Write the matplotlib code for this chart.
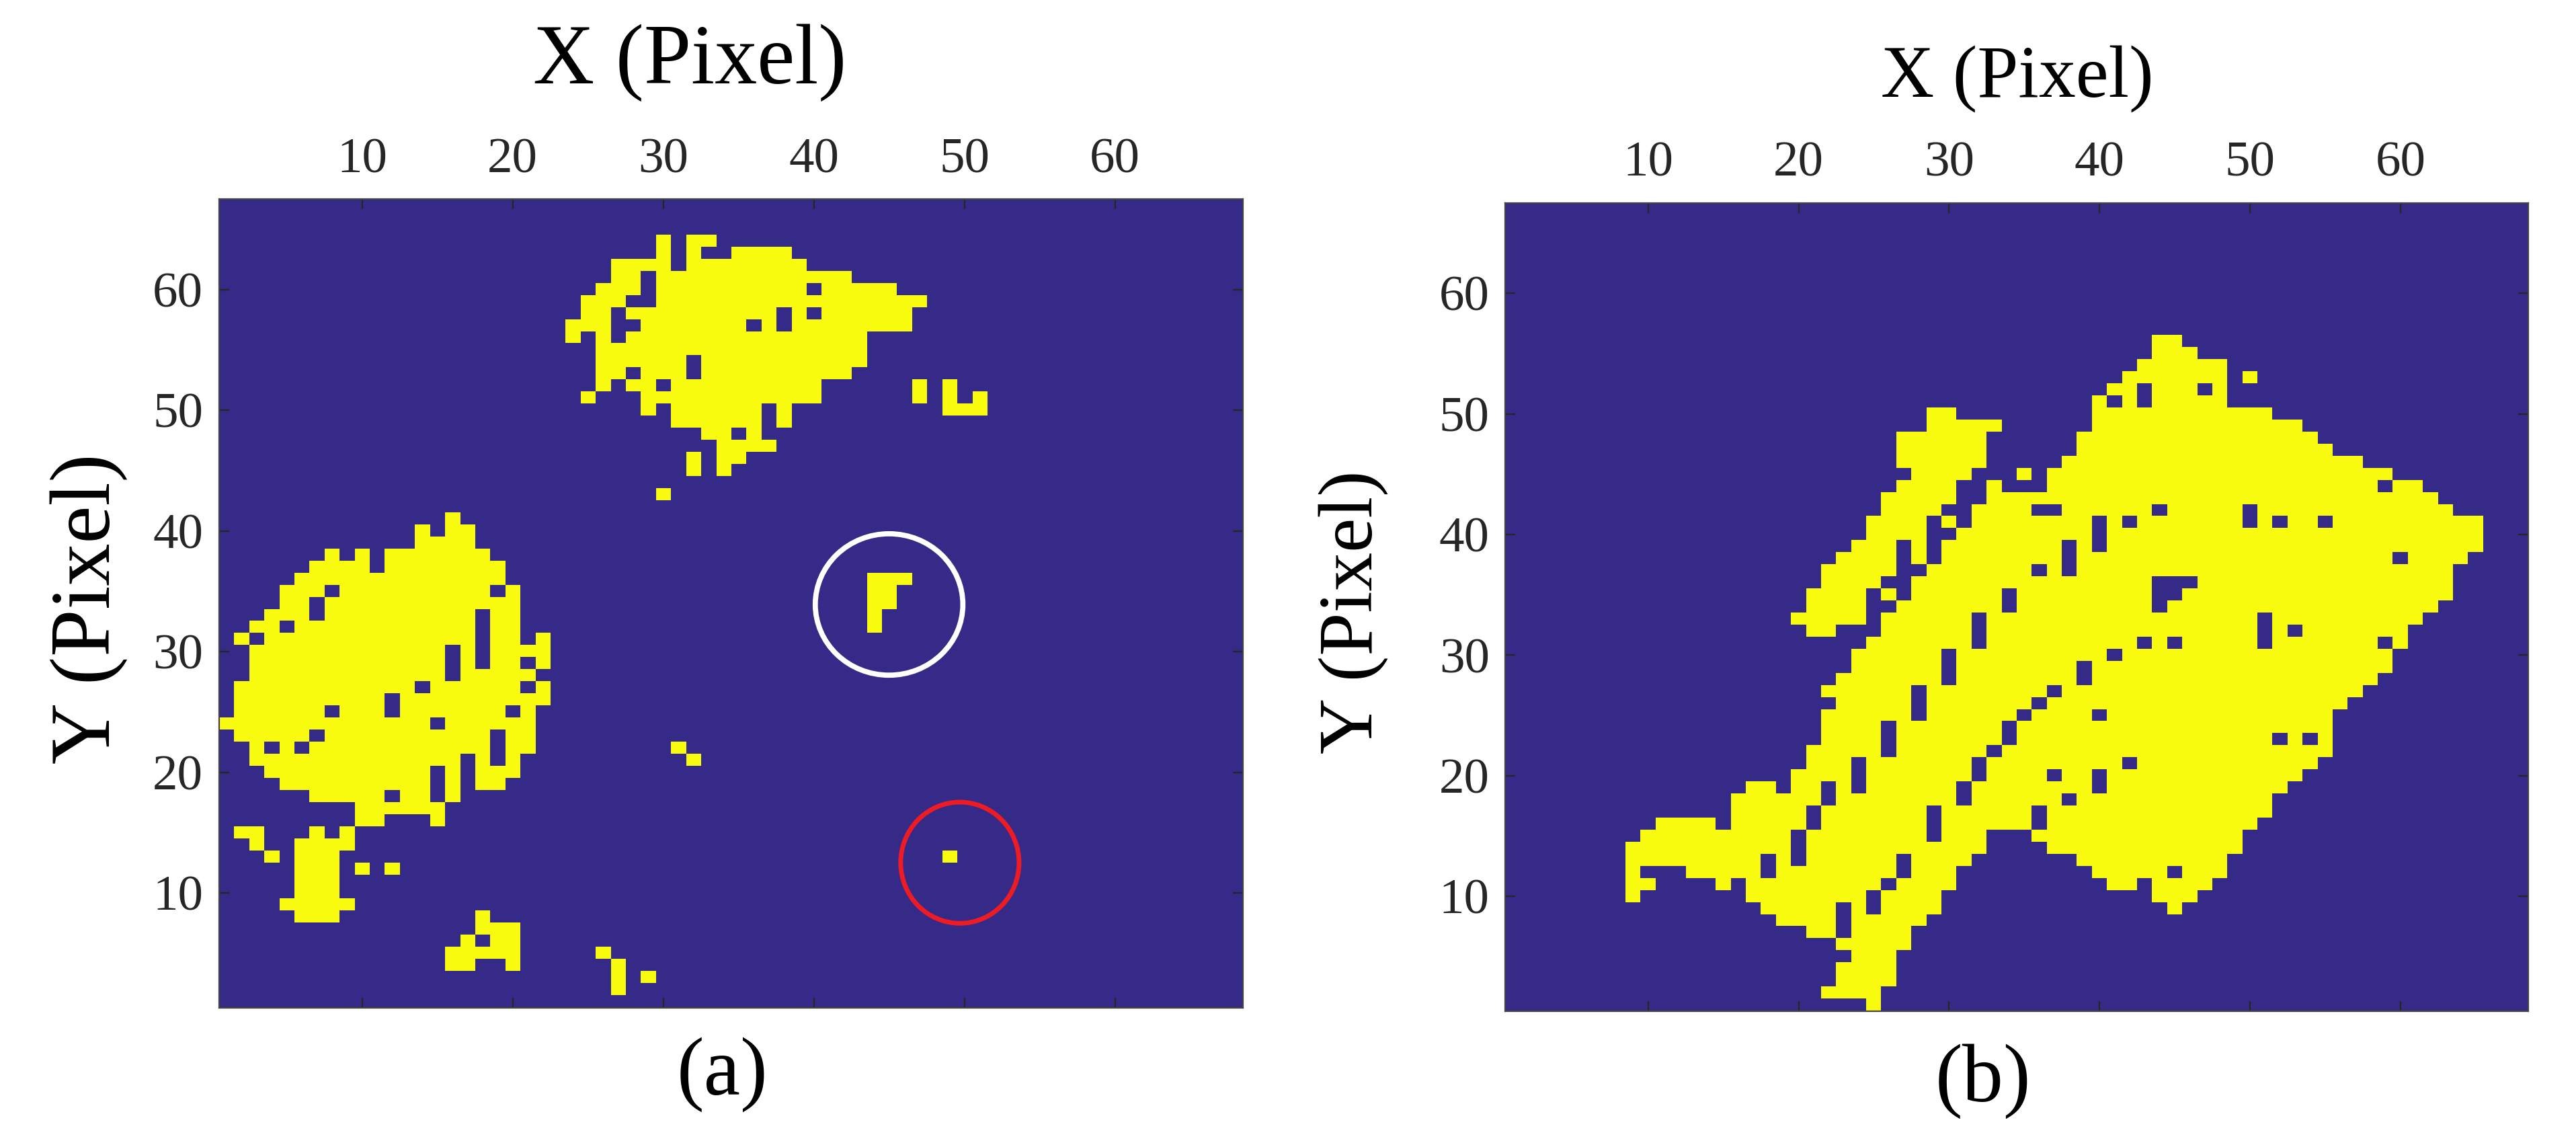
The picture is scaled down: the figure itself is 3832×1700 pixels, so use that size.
import numpy as np
import matplotlib
matplotlib.use("Agg")
import matplotlib.pyplot as plt
from matplotlib.colors import ListedColormap
from matplotlib.patches import Ellipse

plt.rcParams['font.family'] = ['Liberation Serif', 'DejaVu Serif']

W, H = 3832, 1700

# yellow pixels per row, row number -> column runs
left_rows = {
    64: "30 32-33", 63: "30 32 35-38", 62: "27-30 32-39", 61: "27-28 30-42",
    60: "26-28 30-39 41-45", 59: "25-27 30-47", 58: "25-26 28-37 39 41-46",
    57: "24-26 29-35 37 39-46", 56: "24 26 28-43", 55: "26-43", 54: "26-31 33-43",
    53: "26-27 29-31 33-42", 52: "26 28-29 31-40 47 49", 51: "25 29-40 47 49 51",
    50: "29 31-36 38 49-51", 49: "31-36 38", 48: "33-34 36", 47: "34-37",
    46: "32 34-35", 45: "32 34", 43: "30",
    41: "16", 40: "14 16-17", 39: "14-17", 38: "8 10 12-18", 37: "7-10 12-19",
    36: "6-19 44-46", 35: "5-7 9-18 20 44-45", 34: "5-6 8-20 44-45",
    33: "4-6 8-17 19-20 44", 32: "3-4 6-17 19-20 44", 31: "2 4-17 19-20 22",
    30: "3-15 17 19-22", 29: "3-15 17 19-20 22", 28: "3-15 17-21",
    27: "2-13 15-20 22", 26: "2-11 13-22", 25: "2-7 9-11 13-19 21",
    24: "1-14 16-21", 23: "2-6 8-18 20-21", 22: "3 5 7-18 20-21 31",
    21: "3-16 18 20 32", 20: "4-14 16 18-20", 19: "5-14 16 18-19",
    18: "7-11 13-14 16", 17: "10-15", 16: "10-11 15", 15: "2-3 7 9", 14: "3 6-9",
    13: "4 6-8 49", 12: "6-8 10 12", 11: "6-8", 10: "6-8", 9: "5-9", 8: "6-8 18",
    7: "18-20", 6: "17 19-20", 5: "16-20 26", 4: "16-17 20 27", 3: "27 29", 2: "27",
}

right_rows = {
    56: "44-45", 55: "44-46", 54: "43-48", 53: "42-48 50", 52: "41-42 44-46 48",
    51: "40 42 44-48", 50: "29-30 40-51", 49: "29-33 40-53", 48: "27-32 39-54",
    47: "27-32 39-55", 46: "27-32 38-57", 45: "28-31 35 37-59",
    44: "27-30 33 37-58 60-61", 43: "26-30 33-62",
    42: "26-29 32-35 38-43 45-49 51-63",
    41: "25-28 30 32-39 41 43-49 51 53-54 56-65",
    40: "25-28 31-39 41-65", 39: "24-26 28 30-37 39 41-65",
    38: "23-26 28 30-37 39-59 61-64", 37: "22-26 29-35 37 39-63",
    36: "22-25 28-43 47-63", 35: "21-24 26 28-33 35-43 46-63",
    34: "21-24 27-33 35-43 45-62", 33: "20-24 26-31 33-50 52-61",
    32: "21-22 26-31 33-50 52 54-60", 31: "25-31 33-42 44 46-50 52-58 60",
    30: "24-29 31-40 42-59", 29: "24-29 31-38 40-59", 28: "23-29 31-38 40-58",
    27: "22-27 29-36 38-57", 26: "23-27 29-35 37-56", 25: "22-27 29-34 36-39 41-55",
    24: "22-25 27-33 35-55", 23: "22-25 27-33 35-51 53 55", 22: "21-25 27-32 34-55",
    21: "21-23 25-31 33-41 43-54", 20: "20-23 25-31 33-36 38-39 41-53",
    19: "17-18 20-21 23 25-30 32-39 41-52", 18: "16-21 23-30 32-37 39-51",
    17: "16-20 22-28 30-35 37-51", 16: "11-14 16-20 22-28 30-35 37-50",
    15: "10-19 21-28 30-32 36-49", 14: "9-19 21-32 37-49",
    13: "9-17 19 21-26 28-31 39-48", 12: "9 13-17 19-26 28-30 40-44 46-48",
    11: "9-10 15 17-25 27-30 41-42 44-47", 10: "9 17-24 26-29 44-46",
    9: "18-22 24 26-29 45", 8: "19-22 24-28", 7: "21-22 24-27", 6: "23-27",
    5: "24-26", 4: "23-26", 3: "23-26", 2: "22-25", 1: "25",
}

x_ticks = [10, 20, 30, 40, 50, 60]
y_ticks = [10, 20, 30, 40, 50, 60]
x_label = "X (Pixel)"
y_label = "Y (Pixel)"
panel_names = ["(a)", "(b)"]

# circled spots in panel (a): x, y, x radius, y radius, colour, line width
white_spot = [45.0, 33.9, 4.9, 5.86, "white", 5.6]
red_spot = [49.7, 12.5, 3.93, 5.02, "#ed1c24", 5.0]


def build_mask(rows):
    mask = np.zeros((67, 68))
    for r, runs in rows.items():
        for run in runs.split():
            parts = run.split("-")
            mask[r - 1, int(parts[0]) - 1:int(parts[-1])] = 1
    return mask


def px_axes(fig, x0, x1, top, bottom):
    return fig.add_axes([x0 / W, 1 - bottom / H, (x1 - x0) / W, (bottom - top) / H])


def px_text(fig, x, y, s, **kw):
    fig.text(x / W, 1 - y / H, s, ha="center", va="baseline", color="black",
             rotation_mode="anchor", **kw)


cmap = ListedColormap(["#352a87", "#f9fb0e"])
fig = plt.figure(figsize=(W / 100, H / 100), dpi=100, facecolor="white")

ax_a = px_axes(fig, 325.7, 1849, 296, 1498.5)
ax_b = px_axes(fig, 2239.3, 3761, 301.6, 1503.5)

for ax, rows in [(ax_a, left_rows), (ax_b, right_rows)]:
    ax.imshow(build_mask(rows), origin="lower", extent=[0.5, 68.5, 0.5, 67.5],
              aspect="auto", cmap=cmap, interpolation="nearest", vmin=0, vmax=1)
    ax.set_xticks(x_ticks)
    ax.set_yticks(y_ticks)
    ax.xaxis.tick_top()
    ax.tick_params(which="both", direction="in", length=11, width=1.6, color="#262626",
                   labelcolor="#262626", labelsize=54, top=True, bottom=True,
                   left=True, right=True, pad=17)
    for s in ax.spines.values():
        s.set_linewidth(1.6)
        s.set_color("#444444")

for spot in [white_spot, red_spot]:
    ax_a.add_patch(Ellipse((spot[0], spot[1]), 2 * spot[2], 2 * spot[3], fill=False,
                           edgecolor=spot[4], linewidth=spot[5]))

px_text(fig, 1026, 124, x_label, fontsize=91)
px_text(fig, 3001, 145, x_label, fontsize=79)
px_text(fig, 163, 905, y_label, fontsize=91, rotation=90)
px_text(fig, 2041, 910, y_label, fontsize=83, rotation=90)
px_text(fig, 1075, 1628, panel_names[0], fontsize=88)
px_text(fig, 2950, 1638, panel_names[1], fontsize=88)

fig.savefig("out.png", dpi=100)
